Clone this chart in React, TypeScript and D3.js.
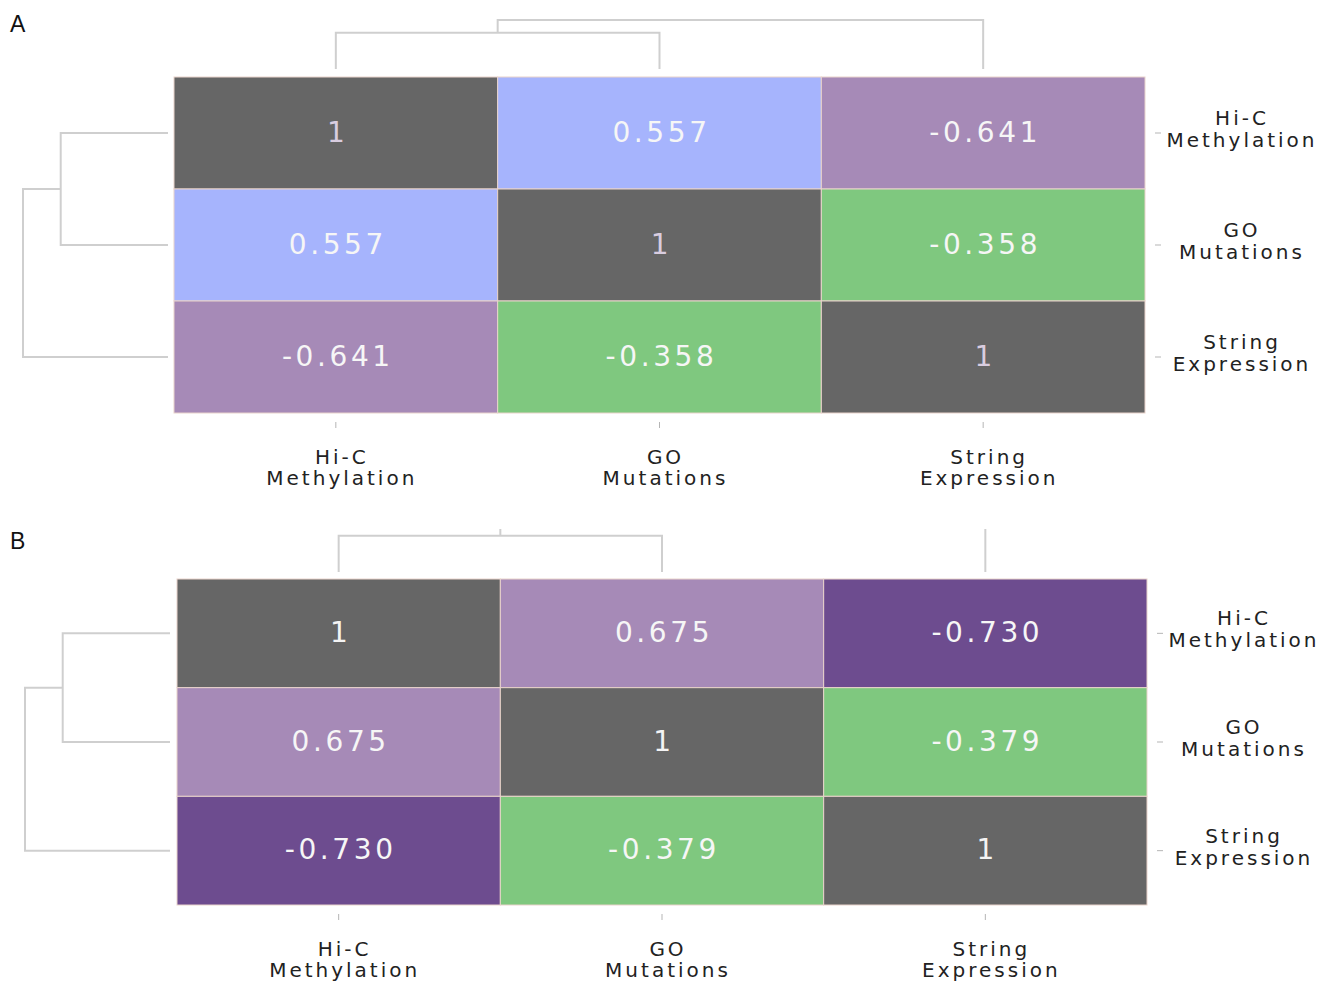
import React from "react";
import * as d3 from "d3";

// Variables, in the same order for rows and columns
const labelLines: string[][] = [
  ["Hi-C", "Methylation"],
  ["GO", "Mutations"],
  ["String", "Expression"],
];
const categories = ["Hi-C Methylation", "GO Mutations", "String Expression"];

// Correlation matrices
const matrixA: number[][] = [
  [1, 0.557, -0.641],
  [0.557, 1, -0.358],
  [-0.641, -0.358, 1],
];
const matrixB: number[][] = [
  [1, 0.675, -0.73],
  [0.675, 1, -0.379],
  [-0.73, -0.379, 1],
];

// Colour assigned to each distinct coefficient
const valuesA = [1, 0.557, -0.641, -0.358];
const coloursA = ["#666666", "#a6b4fd", "#a68ab7", "#7fc87f"];
const valuesB = [1, 0.675, -0.73, -0.379];
const coloursB = ["#666666", "#a68ab7", "#6d4c8f", "#7fc87f"];

// Hierarchical clustering: [childA, childB, normalised height]; node 3 = first merge
const linkage: [number, number, number][] = [
  [0, 1, 0.74],
  [3, 2, 1],
];

type PanelCfg = {
  letter: string;
  letterY: number;
  x0: number;
  x1: number;
  y0: number;
  y1: number;
  topLeaf: number;
  topRoot: number;
  topClip: number | null;
  leftLeaf: number;
  leftRoot: number;
  diagText: string;
};

const panelA: PanelCfg = {
  letter: "A",
  letterY: 32,
  x0: 174,
  x1: 1145,
  y0: 77,
  y1: 413,
  topLeaf: 69,
  topRoot: 20,
  topClip: null,
  leftLeaf: 168,
  leftRoot: 23,
  diagText: "#d9cde0",
};
const panelB: PanelCfg = {
  letter: "B",
  letterY: 549,
  x0: 177,
  x1: 1147,
  y0: 579,
  y1: 905,
  topLeaf: 572,
  topRoot: 523,
  topClip: 529,
  leftLeaf: 170,
  leftRoot: 25,
  diagText: "#f4f4f4",
};

const fmt = (v: number) => (v === 1 ? "1" : v.toFixed(3));

// Elbow paths of a dendrogram; pos(leaf) gives the leaf coordinate along the axis,
// h(height) the coordinate across it.
function dendroPaths(
  leafPos: number[],
  h: d3.ScaleLinear<number, number>,
  vertical: boolean
): string[] {
  const pos = [...leafPos];
  const hts = leafPos.map(() => 0);
  const out: string[] = [];
  linkage.forEach(([a, b, ht]) => {
    const p = d3.path();
    const pt = (along: number, across: number) =>
      vertical ? [along, across] : [across, along];
    const [ax, ay] = pt(pos[a], h(hts[a]));
    const [mx1, my1] = pt(pos[a], h(ht));
    const [mx2, my2] = pt(pos[b], h(ht));
    const [bx, by] = pt(pos[b], h(hts[b]));
    p.moveTo(ax, ay);
    p.lineTo(mx1, my1);
    p.lineTo(mx2, my2);
    p.lineTo(bx, by);
    out.push(p.toString());
    pos.push((pos[a] + pos[b]) / 2);
    hts.push(ht);
  });
  return out;
}

function Panel({
  cfg,
  matrix,
  values,
  colours,
}: {
  cfg: PanelCfg;
  matrix: number[][];
  values: number[];
  colours: string[];
}) {
  const x = d3.scaleBand<string>().domain(categories).range([cfg.x0, cfg.x1]);
  const y = d3.scaleBand<string>().domain(categories).range([cfg.y0, cfg.y1]);
  const colour = d3.scaleOrdinal<number, string>().domain(values).range(colours);

  const colCentres = categories.map((c) => (x(c) ?? 0) + x.bandwidth() / 2);
  const rowCentres = categories.map((c) => (y(c) ?? 0) + y.bandwidth() / 2);

  const hTop = d3.scaleLinear().domain([0, 1]).range([cfg.topLeaf, cfg.topRoot]);
  const hLeft = d3.scaleLinear().domain([0, 1]).range([cfg.leftLeaf, cfg.leftRoot]);
  const topPaths = dendroPaths(colCentres, hTop, true);
  const leftPaths = dendroPaths(rowCentres, hLeft, false);
  const clipId = `clip-top-${cfg.letter}`;

  return (
    <g>
      <text
        x={10}
        y={cfg.letterY}
        fontFamily="Liberation Sans, Arial, sans-serif"
        fontSize={23}
        fill="#111"
      >
        {cfg.letter}
      </text>

      {cfg.topClip !== null && (
        <defs>
          <clipPath id={clipId}>
            <rect x={0} y={cfg.topClip} width={1334} height={cfg.y0 - cfg.topClip} />
          </clipPath>
        </defs>
      )}
      <g clipPath={cfg.topClip !== null ? `url(#${clipId})` : undefined}>
        {topPaths.map((d, i) => (
          <path key={i} d={d} fill="none" stroke="#cfcfcf" strokeWidth={2} />
        ))}
      </g>
      <g>
        {leftPaths.map((d, i) => (
          <path key={i} d={d} fill="none" stroke="#cfcfcf" strokeWidth={2} />
        ))}
      </g>

      {matrix.map((row, i) =>
        row.map((v, j) => (
          <rect
            key={`r${i}-${j}`}
            x={x(categories[j])}
            y={y(categories[i])}
            width={x.bandwidth()}
            height={y.bandwidth()}
            fill={colour(v)}
            stroke="#e9d3cb"
            strokeWidth={1}
          />
        ))
      )}
      {matrix.map((row, i) =>
        row.map((v, j) => (
          <text
            key={`t${i}-${j}`}
            x={colCentres[j] + 2}
            y={rowCentres[i] + 8.5}
            textAnchor="middle"
            fontFamily="DejaVu Sans, Verdana, sans-serif"
            fontSize={28}
            style={{ letterSpacing: "3.6px" }}
            fill={v === 1 ? cfg.diagText : "#f6f6f6"}
          >
            {fmt(v)}
          </text>
        ))
      )}

      {/* bottom axis */}
      {colCentres.map((cx, j) => (
        <g key={`bx${j}`}>
          <line x1={cx} x2={cx} y1={cfg.y1 + 9} y2={cfg.y1 + 15} stroke="#b5b5b5" strokeWidth={1} />
          {labelLines[j].map((ln, k) => (
            <text
              key={k}
              x={cx + 6}
              y={cfg.y1 + 50.5 + k * 21.5}
              textAnchor="middle"
              fontFamily="DejaVu Sans, Verdana, sans-serif"
              fontSize={20}
              style={{ letterSpacing: "3px" }}
              fill="#222"
            >
              {ln}
            </text>
          ))}
        </g>
      ))}

      {/* right axis */}
      {rowCentres.map((cy, i) => (
        <g key={`ry${i}`}>
          <line x1={cfg.x1 + 10} x2={cfg.x1 + 16} y1={cy} y2={cy} stroke="#b5b5b5" strokeWidth={1} />
          {labelLines[i].map((ln, k) => (
            <text
              key={k}
              x={cfg.x1 + 97}
              y={cy - 8 + k * 22}
              textAnchor="middle"
              fontFamily="DejaVu Sans, Verdana, sans-serif"
              fontSize={20}
              style={{ letterSpacing: "3px" }}
              fill="#222"
            >
              {ln}
            </text>
          ))}
        </g>
      ))}
    </g>
  );
}

export default function App() {
  return (
    <div style={{ position: "absolute", left: 0, top: 0 }}>
      <svg width={1334} height={981} style={{ display: "block", background: "#ffffff" }}>
        <Panel cfg={panelA} matrix={matrixA} values={valuesA} colours={coloursA} />
        <Panel cfg={panelB} matrix={matrixB} values={valuesB} colours={coloursB} />
      </svg>
    </div>
  );
}
